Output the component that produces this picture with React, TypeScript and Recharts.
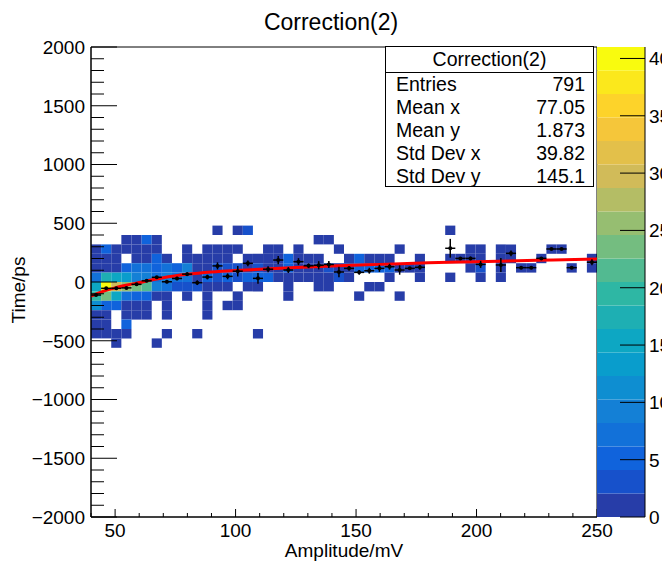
import {
  ComposedChart,
  XAxis,
  YAxis,
  ReferenceArea,
  Line,
  Bar,
  Scatter,
  ErrorBar,
} from "recharts";

const FONT = '"Liberation Sans", Arial, Helvetica, sans-serif';

// 2D histogram binning (50 x 50 bins)
const X_MIN = 40;
const X_MAX = 250;
const X_BIN = 4.2;
const Y_MIN = -2000;
const Y_MAX = 2000;
const Y_BIN = 80;
const Z_MAX = 41;
const N_LEVELS = 20;

const xTicks = [40, 50, 60, 70, 80, 90, 100, 110, 120, 130, 140, 150, 160, 170, 180, 190, 200, 210, 220, 230, 240, 250];
const yTicks = [
  -2000, -1900, -1800, -1700, -1600, -1500, -1400, -1300, -1200, -1100, -1000,
  -900, -800, -700, -600, -500, -400, -300, -200, -100, 0,
  100, 200, 300, 400, 500, 600, 700, 800, 900, 1000,
  1100, 1200, 1300, 1400, 1500, 1600, 1700, 1800, 1900, 2000,
];
const zTicks = [0, 5, 10, 15, 20, 25, 30, 35, 40];

// lower edge of each filled y row, top to bottom
const yRowLow = [400, 320, 240, 160, 80, 0, -80, -160, -240, -320, -400, -480, -560];

// entries per x bin for each row above
const row400 = [0,0,0,0,0,0,0,0,0,0, 0,0,1,0,1,4,0,0,0,0, 0,0,0,0,0,0,0,0,0,0, 0,0,0,0,0,1,0,0,0,0, 0,0,0,0,0,0,0,0,0,0];
const row320 = [0,0,0,1,1,5,2,0,0,0, 0,0,0,0,0,0,0,0,0,0, 0,0,1,1,0,0,0,0,0,0, 0,0,0,0,0,0,0,0,0,0, 0,0,0,0,0,0,0,0,0,0];
const row240 = [2,6,2,2,1,2,1,0,0,1, 0,1,2,1,1,0,0,1,1,0, 1,0,0,0,1,0,0,0,0,0, 1,0,0,0,0,0,0,1,1,0, 1,1,0,0,0,2,2,0,0,0];
const row160 = [2,2,2,0,2,2,6,2,0,2, 1,2,2,1,0,2,1,2,2,5, 2,1,2,0,0,2,5,2,1,2, 0,0,1,0,0,1,1,1,1,0, 1,1,0,0,2,0,0,0,0,1];
const row80 = [2,2,2,5,7,7,6,8,6,10, 2,2,3,3,4,2,4,2,2,6, 2,2,2,4,2,2,6,5,5,6, 1,1,1,0,0,0,0,1,4,0, 1,0,2,2,0,0,0,1,0,1];
const row0 = [8,18,16,14,9,10,8,9,7,7, 2,6,3,5,4,6,6,5,1,2, 1,1,1,1,3,2,0,0,0,1, 0,0,1,0,0,1,0,0,1,0, 1,0,0,0,0,0,0,0,0,0];
const rowM80 = [16,41,30,25,23,21,9,8,4,3, 4,2,1,1,0,1,2,0,0,1, 0,0,1,1,0,0,0,1,1,0, 0,0,0,0,0,0,0,0,0,0, 0,0,0,0,0,0,0,0,0,0];
const rowM160 = [20,24,16,8,6,5,2,2,0,2, 0,1,0,0,1,0,0,0,0,1, 0,0,0,0,0,0,1,0,0,0, 1,0,0,0,0,0,0,0,0,0, 0,0,0,0,0,0,0,0,0,0];
const rowM240 = [12,6,5,2,2,1,0,1,0,0, 0,1,0,1,1,0,0,0,0,0, 0,0,0,0,0,0,0,0,0,0, 0,0,0,0,0,0,0,0,0,0, 0,0,0,0,0,0,0,0,0,0];
const rowM320 = [2,2,0,2,1,1,0,1,0,0, 0,1,0,0,0,0,0,0,0,0, 0,0,0,0,0,0,0,0,0,0, 0,0,0,0,0,0,0,0,0,0, 0,0,0,0,0,0,0,0,0,0];
const rowM400 = [2,2,0,5,0,0,0,0,0,0, 0,0,0,0,0,0,0,0,0,0, 0,0,0,0,0,0,0,0,0,0, 0,0,0,0,0,0,0,0,0,0, 0,0,0,0,0,0,0,0,0,0];
const rowM480 = [2,1,1,1,0,0,0,1,0,0, 1,0,0,0,0,0,1,0,0,0, 0,0,0,0,0,0,0,0,0,0, 0,0,0,0,0,0,0,0,0,0, 0,0,0,0,0,0,0,0,0,0];
const rowM560 = [0,0,1,0,0,0,1,0,0,0, 0,0,0,0,0,0,0,0,0,0, 0,0,0,0,0,0,0,0,0,0, 0,0,0,0,0,0,0,0,0,0, 0,0,0,0,0,0,0,0,0,0];
const rows = [row400, row320, row240, row160, row80, row0, rowM80, rowM160, rowM240, rowM320, rowM400, rowM480, rowM560];

// profile (mean y per x bin)
const profileBins = [0,1,2,3,4,5,6,7,8,9,10,11,12,13,14,15,16,17,18,19,20,21,22,23,24,25,26,27,28,29,30,31,32,35,36,37,38,40,41,42,43,44,45,46,47,49];
const profileMean = [-111,-54,-54,-50,-20,10,40,2,30,67,-6,42,137,48,92,159,31,109,187,102,173,138,142,149,85,116,82,96,116,130,102,116,125,287,201,201,150,145,244,122,122,201,281,281,122,168];
const profileErr = [10,8,8,8,10,10,12,12,15,15,20,20,30,25,45,25,45,25,35,25,30,20,35,30,45,20,20,25,30,25,40,0,20,80,0,15,30,60,25,0,0,10,0,0,0,25];

// fit curve
const fitX = [40, 45, 50, 55, 60, 65, 70, 80, 90, 100, 110, 125, 140, 160, 180, 200, 225, 250];
const fitY = [-120, -80, -50, -26, -5, 17, 37, 66, 85, 98, 108, 123, 136, 150, 163, 173, 185, 196];

const statRows = [
  ["Entries", "791"],
  ["Mean x", "77.05"],
  ["Mean y", "1.873"],
  ["Std Dev x", "39.82"],
  ["Std Dev y", "145.1"],
];

// ROOT kBird palette
const BIRD_STOPS = [0, 0.125, 0.25, 0.375, 0.5, 0.625, 0.75, 0.875, 1];
const BIRD_R = [0.2082, 0.0592, 0.078, 0.0232, 0.1802, 0.5301, 0.8186, 0.9956, 0.9764];
const BIRD_G = [0.1664, 0.3599, 0.5041, 0.6419, 0.7178, 0.7492, 0.7328, 0.7862, 0.9832];
const BIRD_B = [0.5293, 0.8684, 0.8385, 0.7914, 0.6425, 0.4662, 0.3499, 0.1968, 0.0539];

function bird(t: number) {
  let s = 0;
  while (s < BIRD_STOPS.length - 2 && t > BIRD_STOPS[s + 1]) s++;
  const f = (t - BIRD_STOPS[s]) / (BIRD_STOPS[s + 1] - BIRD_STOPS[s]);
  const c = (a: number[]) => Math.round(255 * (a[s] + f * (a[s + 1] - a[s])));
  return `rgb(${c(BIRD_R)},${c(BIRD_G)},${c(BIRD_B)})`;
}

function levelColor(k: number) {
  const idx = Math.floor(((k + 0.99) * 255) / N_LEVELS);
  return bird(Math.min(1, idx / 254));
}

function countColor(z: number) {
  const k = Math.min(N_LEVELS - 1, Math.floor(z / (Z_MAX / N_LEVELS)));
  return levelColor(k);
}

const cells = rows.flatMap((row, r) =>
  row
    .map((z, i) => ({ z, i }))
    .filter((c) => c.z > 0)
    .map((c) => ({
      key: `${r}-${c.i}`,
      x1: X_MIN + c.i * X_BIN,
      x2: X_MIN + (c.i + 1) * X_BIN,
      y1: yRowLow[r],
      y2: yRowLow[r] + Y_BIN,
      fill: countColor(c.z),
    }))
);

const profileData = profileBins.map((b, k) => ({
  x: X_MIN + (b + 0.5) * X_BIN,
  y: profileMean[k],
  ex: X_BIN / 2,
  ey: profileErr[k],
}));

const fitData = fitX.map((x, k) => ({ x, y: fitY[k] }));

// colour bar: one stacked column, one segment per contour level
const levelKeys = Array.from({ length: N_LEVELS }, (_, k) => `L${k}`);
const colorBarData = [
  Object.fromEntries([["name", "z"], ...levelKeys.map((key) => [key, Z_MAX / N_LEVELS])]),
];

const fmt = (v: number) => (v < 0 ? "\u2212" + Math.abs(v) : String(v));

function YTick(props: any) {
  const { x, y, payload } = props;
  const v = payload.value;
  const major = v % 500 === 0;
  return (
    <g>
      <line x1={x} x2={x + (major ? 26 : 13)} y1={y} y2={y} stroke="#000" />
      {major && (
        <text x={x - 6} y={y} dy="0.36em" textAnchor="end" fontSize={19} fontFamily={FONT} fill="#000">
          {fmt(v)}
        </text>
      )}
    </g>
  );
}

function XTick(props: any) {
  const { x, y, payload } = props;
  const v = payload.value;
  const major = v % 50 === 0;
  return (
    <g>
      <line x1={x} x2={x} y1={y} y2={y - (major ? 8 : 4)} stroke="#000" />
      {major && (
        <text x={x} y={y + 13} dy="0.36em" textAnchor="middle" fontSize={19} fontFamily={FONT} fill="#000">
          {v}
        </text>
      )}
    </g>
  );
}

function ZTick(props: any) {
  const { x, y, payload } = props;
  return (
    <g>
      <line x1={x} x2={x - 25} y1={y} y2={y} stroke="#000" />
      <text x={x + 4} y={y} dy="0.36em" textAnchor="start" fontSize={19} fontFamily={FONT} fill="#000">
        {payload.value}
      </text>
    </g>
  );
}

export default function App() {
  return (
    <div
      style={{
        position: "fixed",
        left: 0,
        top: 0,
        width: 662,
        height: 564,
        overflow: "hidden",
        background: "#fff",
        fontFamily: FONT,
        color: "#000",
      }}
    >
      <div style={{ position: "absolute", left: 0, top: 0 }}>
        <ComposedChart width={662} height={564} margin={{ top: 47, right: 65, bottom: 0, left: 0 }}>
          <XAxis
            type="number"
            dataKey="x"
            domain={[X_MIN, X_MAX]}
            ticks={xTicks}
            interval={0}
            allowDataOverflow
            height={47}
            tickSize={0}
            tickMargin={0}
            tickLine={false}
            tick={<XTick />}
            axisLine={{ stroke: "#000" }}
          />
          <YAxis
            type="number"
            domain={[Y_MIN, Y_MAX]}
            ticks={yTicks}
            interval={0}
            allowDataOverflow
            width={91}
            tickSize={0}
            tickMargin={0}
            tickLine={false}
            tick={<YTick />}
            axisLine={{ stroke: "#000" }}
          />
          {cells.map((c) => (
            <ReferenceArea
              key={c.key}
              x1={c.x1}
              x2={c.x2}
              y1={c.y1}
              y2={c.y2}
              fill={c.fill}
              fillOpacity={1}
              stroke="none"
            />
          ))}
          <Line
            data={fitData}
            dataKey="y"
            type="monotone"
            stroke="#ff0000"
            strokeWidth={3}
            dot={false}
            isAnimationActive={false}
          />
          <Scatter
            data={profileData}
            dataKey="y"
            isAnimationActive={false}
            shape={(p: any) => <circle cx={p.cx} cy={p.cy} r={2} fill="#000" />}
          >
            <ErrorBar dataKey="ey" direction="y" width={0} stroke="#000" strokeWidth={1.5} />
            <ErrorBar dataKey="ex" direction="x" width={0} stroke="#000" strokeWidth={1.5} />
          </Scatter>
          <ReferenceArea x1={X_MIN} x2={X_MAX} y1={Y_MIN} y2={Y_MAX} fill="none" stroke="#000" />
        </ComposedChart>
      </div>

      <div style={{ position: "absolute", left: 597, top: 0 }}>
        <ComposedChart
          width={100}
          height={564}
          data={colorBarData}
          margin={{ top: 47, right: 0, bottom: 47, left: 0 }}
          barCategoryGap={0}
          barGap={0}
        >
          <XAxis dataKey="name" type="category" hide />
          <YAxis
            orientation="right"
            type="number"
            domain={[0, Z_MAX]}
            ticks={zTicks}
            interval={0}
            allowDataOverflow
            width={52}
            tickSize={0}
            tickMargin={0}
            tickLine={false}
            tick={<ZTick />}
            axisLine={{ stroke: "#000" }}
          />
          {levelKeys.map((key, k) => (
            <Bar
              key={key}
              dataKey={key}
              stackId="z"
              fill={levelColor(k)}
              isAnimationActive={false}
            />
          ))}
        </ComposedChart>
      </div>

      <div
        style={{
          position: "absolute",
          left: 0,
          top: 8,
          width: 662,
          textAlign: "center",
          fontSize: 23,
          lineHeight: "28px",
        }}
      >
        Correction(2)
      </div>

      <div
        style={{
          position: "absolute",
          left: 91,
          top: 539,
          width: 506,
          textAlign: "center",
          fontSize: 19,
          lineHeight: "24px",
        }}
      >
        Amplitude/mV
      </div>

      <div
        style={{
          position: "absolute",
          left: 19 - 100,
          top: 290 - 12,
          width: 200,
          height: 24,
          textAlign: "center",
          fontSize: 19,
          lineHeight: "24px",
          transform: "rotate(-90deg)",
        }}
      >
        Time/ps
      </div>

      <div
        style={{
          position: "absolute",
          left: 385,
          top: 46,
          width: 209,
          height: 141,
          boxSizing: "border-box",
          border: "1px solid #000",
          background: "#fff",
          fontSize: 19.5,
        }}
      >
        <div
          style={{
            height: 25,
            lineHeight: "25px",
            textAlign: "center",
            borderBottom: "1px solid #000",
          }}
        >
          Correction(2)
        </div>
        {statRows.map(([label, value]) => (
          <div
            key={label}
            style={{
              display: "flex",
              justifyContent: "space-between",
              height: 23,
              lineHeight: "23px",
              padding: "0 8px 0 10px",
            }}
          >
            <span>{label}</span>
            <span>{value}</span>
          </div>
        ))}
      </div>
    </div>
  );
}
